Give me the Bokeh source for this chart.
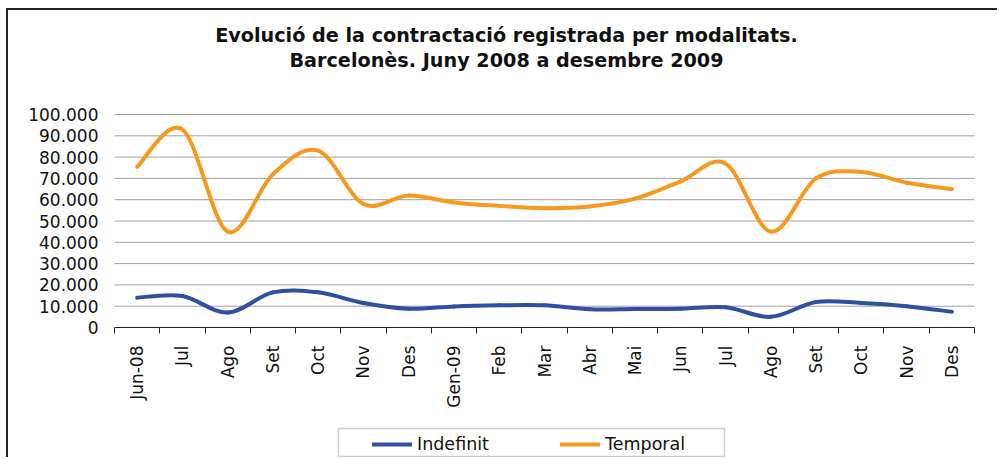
import numpy as np
from bokeh.plotting import figure
from bokeh.models import Range1d, FixedTicker, Label, Legend, LegendItem, BoxAnnotation
from bokeh.embed import file_html
from bokeh.resources import INLINE

# ---- data ----
months = ["Jun-08", "Jul", "Ago", "Set", "Oct", "Nov", "Des", "Gen-09", "Feb", "Mar",
          "Abr", "Mai", "Jun", "Jul", "Ago", "Set", "Oct", "Nov", "Des"]
indefinit = [14000, 14800, 7000, 16500, 16500, 11500, 8800, 9900, 10400, 10400,
             8600, 8700, 8800, 9500, 5000, 12000, 11500, 10000, 7400]
temporal = [75500, 93000, 45000, 72000, 83000, 58000, 62000, 58700, 57100, 56000,
            56800, 60500, 68500, 77000, 45000, 70000, 73000, 68000, 65000]
y_ticks = [0, 10000, 20000, 30000, 40000, 50000, 60000, 70000, 80000, 90000, 100000]
y_tick_labels = ["0", "10.000", "20.000", "30.000", "40.000", "50.000",
                 "60.000", "70.000", "80.000", "90.000", "100.000"]
title_lines = ["Evolució de la contractació registrada per modalitats.",
               "Barcelonès. Juny 2008 a desembre 2009"]
series_names = ["Indefinit", "Temporal"]
colors = ["#2F4FA2", "#F7981F"]

FONT = "DejaVu Sans"
n = len(months)
xs = np.arange(n) + 0.5

# ---- layout (canvas pixels) ----
W, H = 991, 449
PLOT_L, PLOT_R = 106, 966      # x of category 0 start / end
PLOT_T, PLOT_B = 104, 317      # y of 100.000 / 0
YMAX = y_ticks[-1]
px_x = (PLOT_R - PLOT_L) / n
px_y = (PLOT_B - PLOT_T) / YMAX
x_range = Range1d(-PLOT_L / px_x, n + (W - PLOT_R) / px_x)
y_range = Range1d(-(H - PLOT_B) / px_y, YMAX + PLOT_T / px_y)

p = figure(width=W, height=H, output_backend="svg", toolbar_location=None,
           x_range=x_range, y_range=y_range,
           min_border_left=0, min_border_right=0, min_border_top=0,
           min_border_bottom=0,
           styles={"margin-left": "6px", "margin-top": "8px",
                   "border-left": "2px solid #222", "border-top": "2px solid #222"})
p.outline_line_color = None
p.background_fill_color = "white"
p.border_fill_color = "white"
p.grid.visible = False

# horizontal gridlines at the y ticks, limited to the category span
p.segment(x0=[0] * (len(y_ticks) - 1), x1=[n] * (len(y_ticks) - 1),
          y0=y_ticks[1:], y1=y_ticks[1:], line_color="#a0a0a0", line_width=1)

# x axis at y = 0: labels at centres, tick marks at category boundaries
xa = p.xaxis[0]
xa.fixed_location = 0
xa.bounds = (0, n)
xa.ticker = FixedTicker(ticks=list(xs), minor_ticks=list(range(n + 1)))
xa.major_label_overrides = {float(x): m for x, m in zip(xs, months)}
xa.major_label_orientation = np.pi / 2
xa.major_tick_out = 0
xa.major_tick_in = 0
xa.minor_tick_out = 6
xa.minor_tick_in = 0
xa.minor_tick_line_color = "#222222"
xa.axis_line_color = "#222222"
xa.major_label_standoff = 12
xa.major_label_text_font = FONT
xa.major_label_text_font_size = "17px"
xa.major_label_text_color = "#111111"

# y axis at x = 0
ya = p.yaxis[0]
ya.fixed_location = 0
ya.bounds = (0, YMAX)
ya.ticker = FixedTicker(ticks=y_ticks)
ya.major_label_overrides = {t: l for t, l in zip(y_ticks, y_tick_labels)}
ya.axis_line_color = None
ya.major_tick_line_color = None
ya.minor_tick_line_color = None
ya.major_label_standoff = 10
ya.major_label_text_font = FONT
ya.major_label_text_font_size = "17px"
ya.major_label_text_color = "#111111"


def smooth_segments(x, y):
    x = np.asarray(x, float)
    y = np.asarray(y, float)
    m = len(x)
    x0, y0, x1, y1, cx0, cy0, cx1, cy1 = ([] for _ in range(8))
    for i in range(m - 1):
        ip = max(i - 1, 0)
        inn = min(i + 2, m - 1)
        x0.append(x[i]); y0.append(y[i])
        x1.append(x[i + 1]); y1.append(y[i + 1])
        cx0.append(x[i] + (x[i + 1] - x[ip]) / 6.0)
        cy0.append(y[i] + (y[i + 1] - y[ip]) / 6.0)
        cx1.append(x[i + 1] - (x[inn] - x[i]) / 6.0)
        cy1.append(y[i + 1] - (y[inn] - y[i]) / 6.0)
    return dict(x0=x0, y0=y0, x1=x1, y1=y1, cx0=cx0, cy0=cy0, cx1=cx1, cy1=cy1)


items = []
for name, vals, col in zip(series_names, [indefinit, temporal], colors):
    seg = smooth_segments(xs, vals)
    r = p.bezier(**seg, line_color=col, line_width=4, line_cap="round")
    items.append(LegendItem(label=name, renderers=[r]))

# legend box (screen units measured from bottom-left of the canvas)
p.add_layout(BoxAnnotation(left=330, right=716, bottom=3, top=31,
                           left_units="screen", right_units="screen",
                           top_units="screen", bottom_units="screen",
                           fill_color="white", fill_alpha=1,
                           line_color="#555555", line_width=1.5))

legend = Legend(items=items, orientation="horizontal", location=(364, 5),
                margin=0, padding=4, spacing=29, glyph_width=40, glyph_height=20,
                label_standoff=5, label_width=114,
                label_text_font=FONT, label_text_font_size="17.5px",
                label_text_color="#111111",
                border_line_color=None, background_fill_alpha=0)
p.add_layout(legend, "center")

for txt, yy in zip(title_lines, [H - 25, H - 50]):
    p.add_layout(Label(x=498, y=yy, x_units="screen", y_units="screen", text=txt,
                       text_align="center", text_baseline="middle",
                       text_font=FONT, text_font_size="19.2px",
                       text_font_style="bold", text_color="#111111"))

open("out.html", "w").write(file_html(p, INLINE))
